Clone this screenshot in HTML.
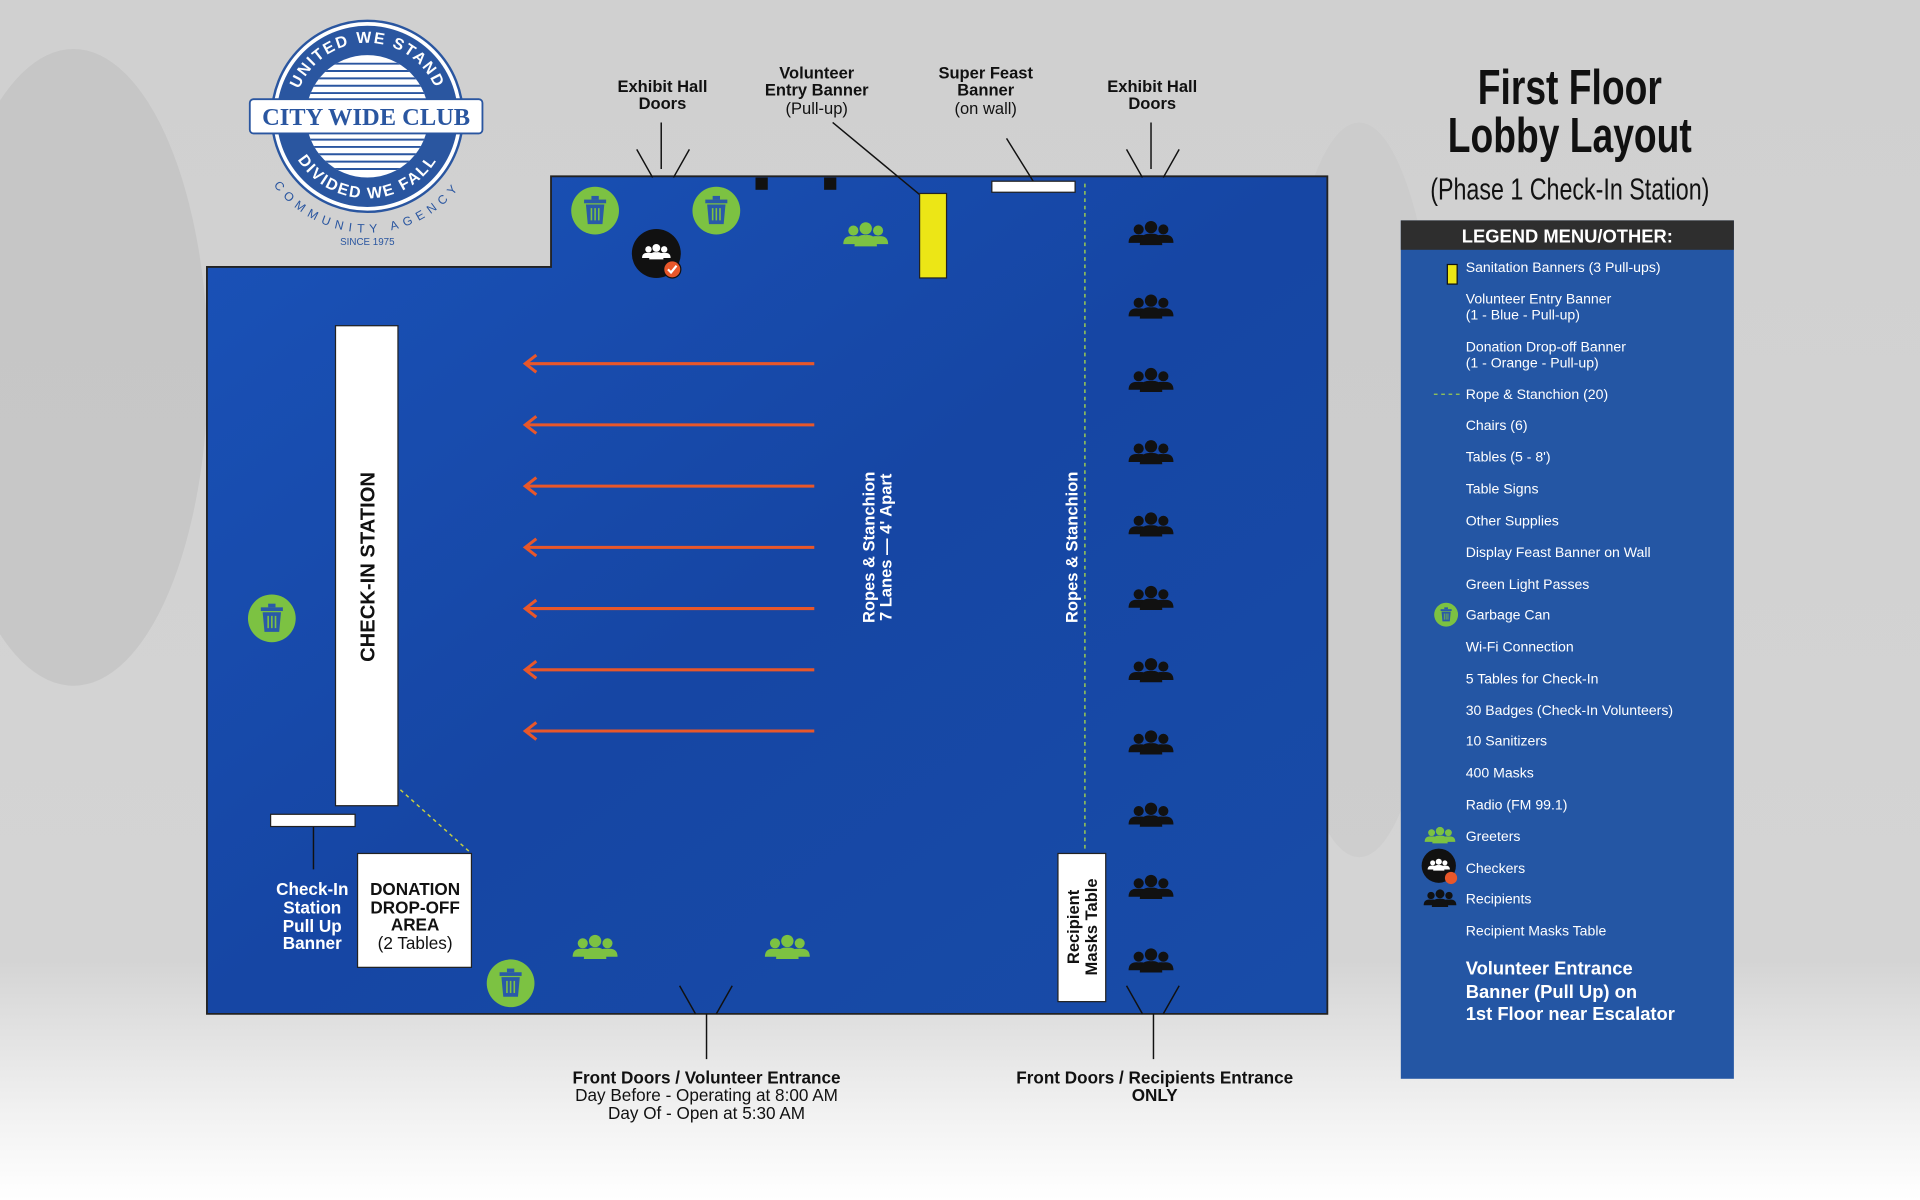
<!DOCTYPE html>
<html><head><meta charset="utf-8"><style>
html,body{margin:0;padding:0;width:1920px;height:1200px;overflow:hidden;background:#fff}
svg{display:block}
text{font-family:"Liberation Sans",Arial,sans-serif}
</style></head><body>
<svg width="1920" height="1200" viewBox="0 0 1568 980" xmlns="http://www.w3.org/2000/svg">
<defs>
<linearGradient id="bg" x1="0" y1="0" x2="0" y2="1">
<stop offset="0" stop-color="#d0d0d0"/><stop offset="0.8" stop-color="#d4d4d4"/><stop offset="0.93" stop-color="#f2f2f2"/><stop offset="1" stop-color="#ffffff"/>
</linearGradient>
<linearGradient id="floor" x1="0" y1="0" x2="1" y2="1">
<stop offset="0" stop-color="#1a52b8"/><stop offset="0.5" stop-color="#1646a4"/><stop offset="1" stop-color="#184ca8"/>
</linearGradient>
<clipPath id="inner"><circle cx="300" cy="95" r="50"/></clipPath>
<path id="arcTop" d="M240 95 A60 60 0 0 1 360 95"/>
<path id="arcBot" d="M233 95 A67 67 0 0 0 367 95"/>
<path id="arcOut" d="M205 95 A95 95 0 0 0 395 95"/>
<symbol id="can" viewBox="-20 -20 40 40">
<circle r="19.5" fill="#7cc242"/>
<rect x="-9" y="-9" width="18" height="3" fill="#2a5aa8"/>
<rect x="-3" y="-12" width="6" height="3" fill="#2a5aa8"/>
<path d="M-7.5 -5 H7.5 L6 11 H-6 Z" fill="#2a5aa8"/>
<path d="M-3 -2 V8 M0 -2 V8 M3 -2 V8" stroke="#7cc242" stroke-width="1.3"/>
</symbol>
<symbol id="ppl" viewBox="-22 -12 44 24">
<circle cx="-11" cy="-4" r="4.5"/><circle cx="11" cy="-4" r="4.5"/><circle cx="0" cy="-6" r="5.5"/>
<path d="M-20 8 Q-20 0 -11 1 Q-2 0 -2 8 Z"/><path d="M2 8 Q2 0 11 1 Q20 0 20 8 Z"/>
<path d="M-10 10 Q-10 -1 0 0 Q10 -1 10 10 Z"/>
</symbol>
</defs>
<rect width="1568" height="980" fill="url(#bg)"/>
<ellipse cx="60" cy="300" rx="110" ry="260" fill="#bcbcbc" opacity="0.5"/>
<ellipse cx="1110" cy="400" rx="70" ry="300" fill="#c6c6c6" opacity="0.4"/>

<path d="M169 218 H450 V144 H1084 V828 H169 Z" fill="url(#floor)" stroke="#222" stroke-width="1.5"/>

<circle cx="300" cy="95" r="78" fill="#fff" stroke="#2a56a0" stroke-width="2"/>
<circle cx="300" cy="95" r="74" fill="#2a56a0"/>
<circle cx="300" cy="95" r="50" fill="#fff"/>
<g stroke="#2a56a0" stroke-width="1.6" clip-path="url(#inner)">
<line x1="240" y1="52" x2="360" y2="52"/><line x1="240" y1="58" x2="360" y2="58"/><line x1="240" y1="64" x2="360" y2="64"/><line x1="240" y1="70" x2="360" y2="70"/><line x1="240" y1="76" x2="360" y2="76"/>
<line x1="240" y1="114" x2="360" y2="114"/><line x1="240" y1="120" x2="360" y2="120"/><line x1="240" y1="126" x2="360" y2="126"/><line x1="240" y1="132" x2="360" y2="132"/><line x1="240" y1="138" x2="360" y2="138"/>
</g>
<rect x="204" y="81" width="190" height="28" rx="3" fill="#fff" stroke="#2a56a0" stroke-width="1.5"/>
<text x="299" y="102" text-anchor="middle" font-weight="bold" font-size="20" fill="#2a56a0" style="font-family:'Liberation Serif',serif">CITY WIDE CLUB</text>
<text font-size="13" font-weight="bold" fill="#fff" letter-spacing="1.5"><textPath href="#arcTop" startOffset="50%" text-anchor="middle">UNITED WE STAND</textPath></text>
<text font-size="13" font-weight="bold" fill="#fff" letter-spacing="1.5"><textPath href="#arcBot" startOffset="50%" text-anchor="middle">DIVIDED WE FALL</textPath></text>
<text font-size="10" fill="#2a56a0" letter-spacing="4.5"><textPath href="#arcOut" startOffset="50%" text-anchor="middle">COMMUNITY AGENCY</textPath></text>
<text x="300" y="200" text-anchor="middle" font-size="8" fill="#2a56a0">SINCE 1975</text>

<g font-size="13.5" font-weight="bold" fill="#111" text-anchor="middle">
<text x="541" y="75">Exhibit Hall</text><text x="541" y="89">Doors</text>
<text x="667" y="64">Volunteer</text><text x="667" y="78">Entry Banner</text>
<text x="805" y="64">Super Feast</text><text x="805" y="78">Banner</text>
<text x="941" y="75">Exhibit Hall</text><text x="941" y="89">Doors</text>
</g>
<g font-size="13.5" fill="#111" text-anchor="middle">
<text x="667" y="93">(Pull-up)</text><text x="805" y="93">(on wall)</text>
</g>
<g stroke="#111" stroke-width="1.2" fill="none">
<path d="M520 122 L533 145 M563 122 L550 145 M540 100 V138"/>
<path d="M920 122 L933 145 M963 122 L950 145 M940 100 V138"/>
<path d="M680 100 L762 168"/>
<path d="M822 113 L845 150"/>
<path d="M555 805 L568 828 M598 805 L585 828 M577 828 V865"/>
<path d="M920 805 L933 828 M963 805 L950 828 M942 828 V865"/>
<path d="M256 675 V710"/>
</g>
<rect x="810" y="148" width="68" height="9" fill="#fff" stroke="#222"/>
<rect x="617" y="145" width="10" height="10" fill="#111"/>
<rect x="673" y="145" width="10" height="10" fill="#111"/>
<rect x="751" y="158" width="22" height="69" fill="#ece616" stroke="#222"/>

<use href="#can" x="466" y="152" width="40" height="40"/>
<use href="#can" x="565" y="152" width="40" height="40"/>
<use href="#can" x="202" y="485" width="40" height="40"/>
<use href="#can" x="397" y="783" width="40" height="40"/>

<circle cx="536" cy="207" r="20" fill="#111"/>
<use href="#ppl" x="523" y="199" width="26" height="14" fill="#fff"/>
<circle cx="549" cy="220" r="7" fill="#e8572a" stroke="#111" stroke-width="1"/>
<path d="M545.5 220 L548 222.5 L552.5 217" stroke="#fff" stroke-width="1.8" fill="none"/>

<g fill="#7cc242">
<use href="#ppl" x="686" y="181" width="42" height="22"/>
<use href="#ppl" x="465" y="763" width="42" height="22"/>
<use href="#ppl" x="622" y="763" width="42" height="22"/>
</g>

<g fill="#111">
<use href="#ppl" x="919" y="180" width="42" height="22"/>
<use href="#ppl" x="919" y="240" width="42" height="22"/>
<use href="#ppl" x="919" y="300" width="42" height="22"/>
<use href="#ppl" x="919" y="359" width="42" height="22"/>
<use href="#ppl" x="919" y="418" width="42" height="22"/>
<use href="#ppl" x="919" y="478" width="42" height="22"/>
<use href="#ppl" x="919" y="537" width="42" height="22"/>
<use href="#ppl" x="919" y="596" width="42" height="22"/>
<use href="#ppl" x="919" y="655" width="42" height="22"/>
<use href="#ppl" x="919" y="714" width="42" height="22"/>
<use href="#ppl" x="919" y="774" width="42" height="22"/>
</g>

<g stroke="#e8572a" stroke-width="2.5" fill="none">
<path d="M665 297 H430 M438 290 L429 297 L438 304"/>
<path d="M665 347 H430 M438 340 L429 347 L438 354"/>
<path d="M665 397 H430 M438 390 L429 397 L438 404"/>
<path d="M665 447 H430 M438 440 L429 447 L438 454"/>
<path d="M665 497 H430 M438 490 L429 497 L438 504"/>
<path d="M665 547 H430 M438 540 L429 547 L438 554"/>
<path d="M665 597 H430 M438 590 L429 597 L438 604"/>
</g>

<path d="M886 150 V693" stroke="#9ccc50" stroke-width="1.2" stroke-dasharray="3 3"/>
<path d="M327 645 L385 697" stroke="#c8d040" stroke-width="1.2" stroke-dasharray="3 3"/>

<g font-size="13.5" font-weight="bold" fill="#fff" text-anchor="middle">
<text transform="translate(714 447) rotate(-90)">Ropes &amp; Stanchion</text>
<text transform="translate(728 447) rotate(-90)">7 Lanes — 4' Apart</text>
<text transform="translate(880 447) rotate(-90)">Ropes &amp; Stanchion</text>
</g>

<rect x="274" y="266" width="51" height="392" fill="#fff" stroke="#222"/>
<text transform="translate(306 463) rotate(-90)" text-anchor="middle" font-size="16.5" font-weight="bold" fill="#111">CHECK-IN STATION</text>
<rect x="221" y="665" width="69" height="10" fill="#fff" stroke="#222"/>
<g font-size="14" font-weight="bold" fill="#fff" text-anchor="middle">
<text x="255" y="731">Check-In</text><text x="255" y="746">Station</text><text x="255" y="761">Pull Up</text><text x="255" y="775">Banner</text>
</g>
<rect x="292" y="697" width="93" height="93" fill="#fff" stroke="#222"/>
<g font-size="14" fill="#111" text-anchor="middle">
<text x="339" y="731" font-weight="bold">DONATION</text><text x="339" y="746" font-weight="bold">DROP-OFF</text><text x="339" y="760" font-weight="bold">AREA</text><text x="339" y="775">(2 Tables)</text>
</g>
<rect x="864" y="697" width="39" height="121" fill="#fff" stroke="#222"/>
<g font-size="13.5" font-weight="bold" fill="#111" text-anchor="middle">
<text transform="translate(881 757) rotate(-90)">Recipient</text>
<text transform="translate(896 757) rotate(-90)">Masks Table</text>
</g>

<g font-size="14" fill="#111" text-anchor="middle">
<text x="577" y="885" font-weight="bold">Front Doors / Volunteer Entrance</text>
<text x="577" y="899">Day Before - Operating at 8:00 AM</text>
<text x="577" y="914">Day Of - Open at 5:30 AM</text>
<text x="943" y="885" font-weight="bold">Front Doors / Recipients Entrance</text>
<text x="943" y="899" font-weight="bold">ONLY</text>
</g>

<g text-anchor="middle" fill="#111" transform="translate(1282 0) scale(0.76 1)">
<text x="0" y="85" font-size="40" font-weight="bold">First Floor</text>
<text x="0" y="124" font-size="40" font-weight="bold">Lobby  Layout</text>
<text x="0" y="163" font-size="25">(Phase 1 Check-In Station)</text>
</g>

<rect x="1144" y="180" width="272" height="701" fill="#2456a4"/>
<rect x="1144" y="180" width="272" height="24" fill="#2e2e2e"/>
<text x="1280" y="198" text-anchor="middle" font-size="15" font-weight="bold" fill="#fff">LEGEND MENU/OTHER:</text>
<rect x="1182" y="216" width="8" height="16" fill="#ece616" stroke="#111"/>
<path d="M1171 322 H1192" stroke="#9ccc50" stroke-width="1" stroke-dasharray="3 3"/>
<use href="#can" x="1171" y="492" width="20" height="20"/>
<use href="#ppl" x="1162" y="675" width="28" height="15" fill="#7cc242"/>
<circle cx="1175" cy="707" r="14" fill="#111"/>
<use href="#ppl" x="1165" y="701" width="20" height="11" fill="#fff"/>
<circle cx="1185" cy="717" r="5" fill="#e8572a"/>
<use href="#ppl" x="1161" y="726" width="30" height="16" fill="#111"/>
<g font-size="11.5" fill="#fff">
<text x="1197" y="222">Sanitation Banners (3 Pull-ups)</text>
<text x="1197" y="248">Volunteer Entry Banner</text><text x="1197" y="261">(1 - Blue - Pull-up)</text>
<text x="1197" y="287">Donation Drop-off Banner</text><text x="1197" y="300">(1 - Orange - Pull-up)</text>
<text x="1197" y="326">Rope &amp; Stanchion (20)</text>
<text x="1197" y="351">Chairs (6)</text>
<text x="1197" y="377">Tables (5 - 8')</text>
<text x="1197" y="403">Table Signs</text>
<text x="1197" y="429">Other Supplies</text>
<text x="1197" y="455">Display Feast Banner on Wall</text>
<text x="1197" y="481">Green Light Passes</text>
<text x="1197" y="506">Garbage Can</text>
<text x="1197" y="532">Wi-Fi Connection</text>
<text x="1197" y="558">5 Tables for Check-In</text>
<text x="1197" y="584">30 Badges (Check-In Volunteers)</text>
<text x="1197" y="609">10 Sanitizers</text>
<text x="1197" y="635">400 Masks</text>
<text x="1197" y="661">Radio (FM 99.1)</text>
<text x="1197" y="687">Greeters</text>
<text x="1197" y="713">Checkers</text>
<text x="1197" y="738">Recipients</text>
<text x="1197" y="764">Recipient Masks Table</text>
</g>
<g font-size="15" font-weight="bold" fill="#fff">
<text x="1197" y="796">Volunteer Entrance</text>
<text x="1197" y="815">Banner (Pull Up) on</text>
<text x="1197" y="833">1st Floor near Escalator</text>
</g>
</svg>
</body></html>
